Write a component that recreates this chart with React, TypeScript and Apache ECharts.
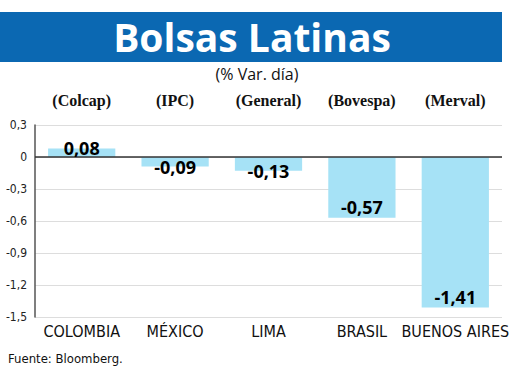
import React, { useEffect, useRef } from "react";
import * as echarts from "echarts";

// Plazas bursátiles y sus índices
const markets = ["COLOMBIA", "MÉXICO", "LIMA", "BRASIL", "BUENOS AIRES"];
const indices = ["(Colcap)", "(IPC)", "(General)", "(Bovespa)", "(Merval)"];
// Variación diaria (%)
const changes = [0.08, -0.09, -0.13, -0.57, -1.41];
// Escala del eje de valores
const yMin = -1.5;
const yMax = 0.3;
const yStep = 0.3;

const fmt = (v: number, digits: number) =>
  Math.abs(v) < 1e-9 ? "0" : v.toFixed(digits).replace(".", ",");

const narrow = "'Liberation Sans Narrow', 'DejaVu Sans Condensed', sans-serif";

export default function App() {
  const ref = useRef<HTMLDivElement>(null);

  useEffect(() => {
    if (!ref.current) return;
    const chart = echarts.init(ref.current, null, { renderer: "svg" });

    chart.setOption({
      animation: false,
      backgroundColor: "#ffffff",
      graphic: [
        {
          type: "rect",
          shape: { x: 0, y: 12, width: 502, height: 50 },
          style: { fill: "#0b68b2" },
        },
        {
          type: "text",
          x: 252,
          y: 36,
          style: {
            text: "Bolsas Latinas",
            fill: "#ffffff",
            font: "bold 39px 'Open Sans', sans-serif",
            lineHeight: 40,
            textAlign: "center",
            textVerticalAlign: "middle",
          },
        },
        {
          type: "text",
          x: 257,
          y: 74,
          style: {
            text: "(% Var. día)",
            fill: "#111111",
            font: "16px 'Open Sans', sans-serif",
            lineHeight: 18,
            textAlign: "center",
            textVerticalAlign: "middle",
          },
        },
        {
          type: "text",
          x: 8,
          y: 358,
          style: {
            text: "Fuente: Bloomberg.",
            fill: "#111111",
            font: "13px " + narrow,
            textAlign: "left",
            textVerticalAlign: "middle",
          },
        },
      ],
      grid: { left: 35, right: 18, top: 125, bottom: 65 },
      xAxis: [
        {
          type: "category",
          data: markets,
          position: "bottom",
          axisLine: { show: false, onZero: false },
          axisTick: { show: false },
          axisLabel: {
            margin: 6,
            color: "#111111",
            fontSize: 16,
            fontFamily: narrow,
            interval: 0,
          },
        },
        {
          type: "category",
          data: indices,
          position: "top",
          axisLine: { show: false, onZero: false },
          axisTick: { show: false },
          axisLabel: {
            margin: 17,
            color: "#111111",
            fontSize: 16,
            fontWeight: "bold",
            fontFamily: "'Liberation Serif', serif",
            interval: 0,
          },
        },
      ],
      yAxis: {
        type: "value",
        min: yMin,
        max: yMax,
        interval: yStep,
        axisLine: { show: true, lineStyle: { color: "#555555", width: 1.5 } },
        axisTick: { show: false },
        axisLabel: {
          margin: 8,
          color: "#222222",
          fontSize: 12,
          fontFamily: narrow,
          formatter: (v: number) => fmt(v, 1),
        },
        splitLine: { lineStyle: { color: "#dddddd", width: 1 } },
      },
      series: [
        {
          type: "bar",
          data: changes,
          barWidth: "72%",
          itemStyle: { color: "#a6e2f6" },
          markLine: {
            silent: true,
            symbol: "none",
            label: { show: false },
            lineStyle: { color: "#333333", width: 1.5, type: "solid" },
            data: [{ yAxis: 0 }],
          },
        },
        {
          // Etiquetas de valor: sobre el extremo en barras cortas, dentro en las largas
          type: "scatter",
          data: changes.map((v, i) => ({
            value: [i, v],
            label: {
              position: Math.abs(v) < 0.3 ? "inside" : "top",
              distance: 1,
            },
          })),
          symbol: "circle",
          symbolSize: 1,
          itemStyle: { color: "transparent", opacity: 1 },
          label: {
            show: true,
            color: "#000000",
            fontSize: 18,
            fontWeight: 700,
            fontFamily: "'Open Sans', sans-serif",
            textBorderWidth: 0,
            formatter: (p: any) => fmt(p.value[1], 2),
          },
          z: 5,
        },
      ],
    });

    return () => chart.dispose();
  }, []);

  return (
    <div
      ref={ref}
      style={{ position: "fixed", left: 0, top: 0, width: 520, height: 382 }}
    />
  );
}
